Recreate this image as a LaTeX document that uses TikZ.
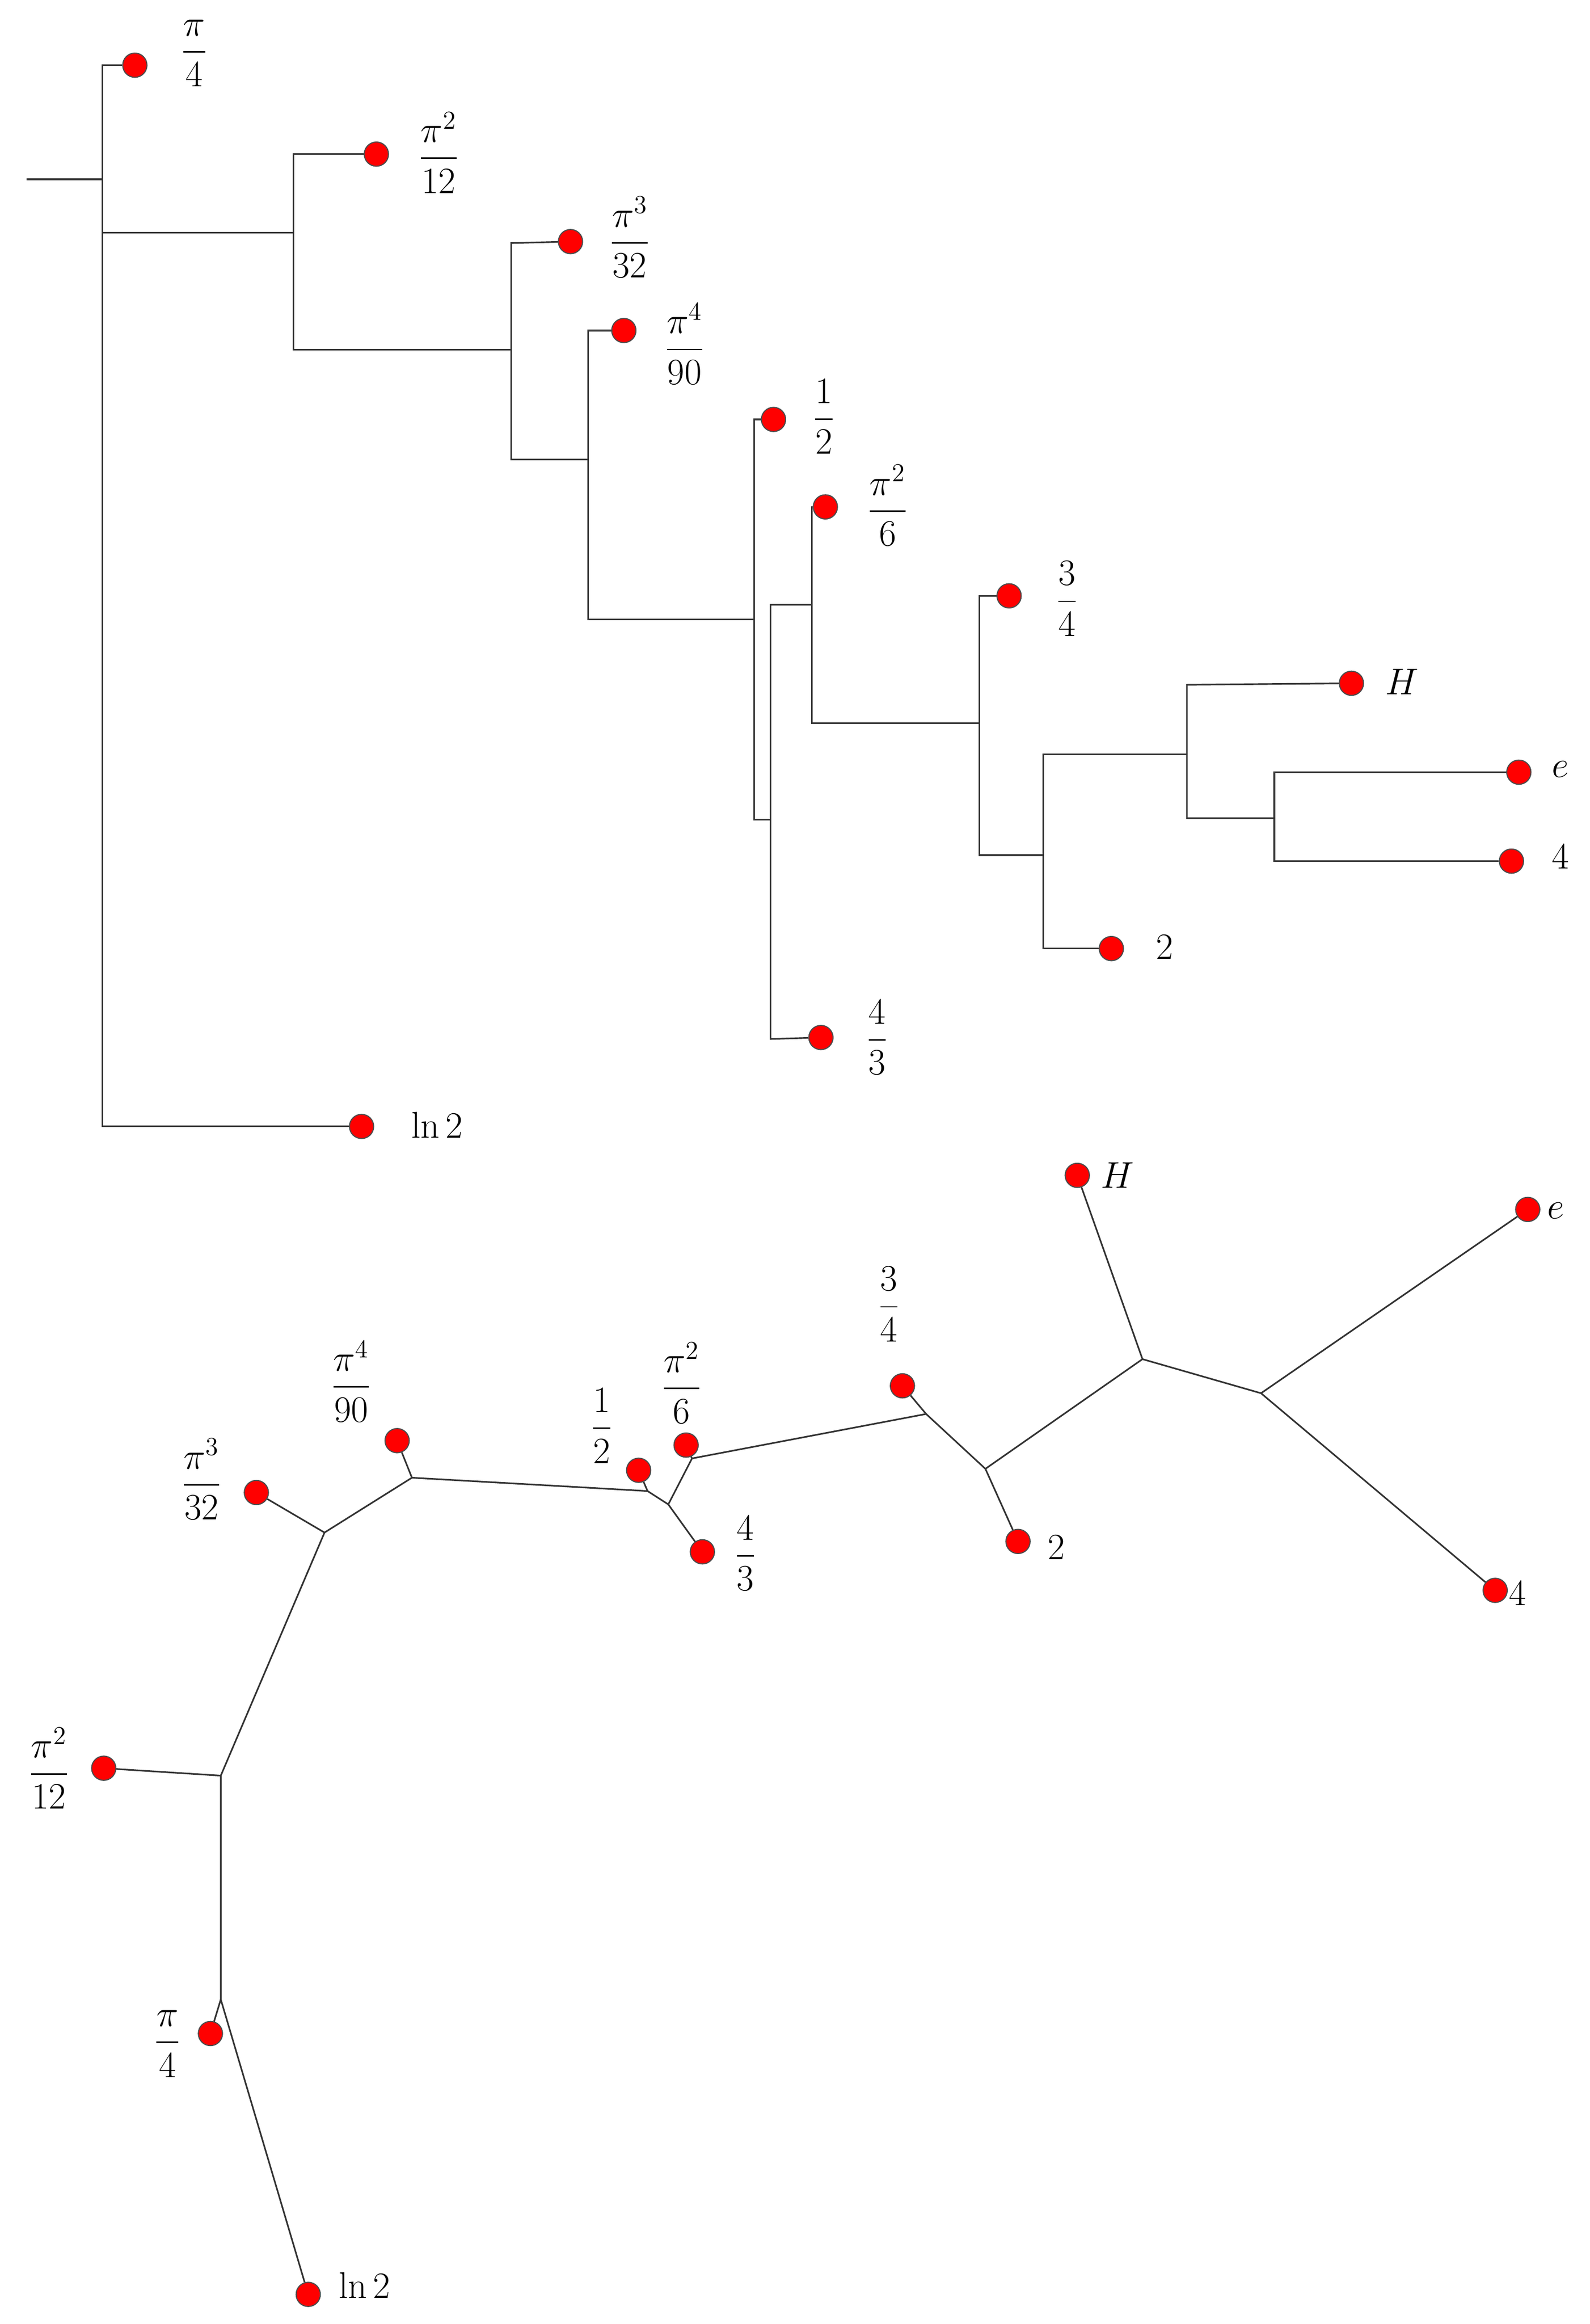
\documentclass[tikz,border=0pt]{standalone}
\usepackage{amsmath}
\begin{document}
\begin{tikzpicture}[x=0.02901cm,y=-0.02901cm,
  ln/.style={draw=black!80,line width=0.9pt},
  leaf/.style={circle,fill=red,draw=black!70,line width=0.6pt,inner sep=0pt,minimum size=13.5},
  lab/.style={font=\fontsize{22}{26}\selectfont,inner sep=0pt},
  pt/.style={coordinate}]
\useasboundingbox (0,0) rectangle (1073,1568);
% ---------- top tree ----------
\coordinate (r0) at (18,121); \coordinate (r1) at (69,121);
\coordinate (v1t) at (69,44); \coordinate (v1b) at (69,760); \coordinate (v1m) at (69,157);
\coordinate (v2m) at (198,157); \coordinate (v2t) at (198,104); \coordinate (v2b) at (198,236);
\coordinate (v3m) at (345,236); \coordinate (v3t) at (345,164); \coordinate (v3b) at (345,310);
\coordinate (v4m) at (397,310); \coordinate (v4t) at (397,223); \coordinate (v4b) at (397,418);
\coordinate (v5m) at (509,418); \coordinate (v5t) at (509,283); \coordinate (v5b) at (509,553);
\coordinate (v6m) at (520,553); \coordinate (v6t) at (520,408); \coordinate (v6b) at (520,701);
\coordinate (v7m) at (548,408); \coordinate (v7t) at (548,342); \coordinate (v7b) at (548,488);
\coordinate (v8m) at (661,488); \coordinate (v8t) at (661,402); \coordinate (v8b) at (661,577);
\coordinate (v9m) at (704,577); \coordinate (v9t) at (704,509); \coordinate (v9b) at (704,640);
\coordinate (vAm) at (801,509); \coordinate (vAt) at (801,462); \coordinate (vAb) at (801,552);
\coordinate (vBm) at (860,552); \coordinate (vBt) at (860,521); \coordinate (vBb) at (860,581);
\node[leaf] (tpi4) at (91,44) {}; \node[lab] at (131,36) {$\dfrac{\pi}{4}$};
\node[leaf] (tpi12) at (254,104) {}; \node[lab] at (296,103) {$\dfrac{\pi^2}{12}$};
\node[leaf] (tpi32) at (385,163) {}; \node[lab] at (425,160) {$\dfrac{\pi^3}{32}$};
\node[leaf] (tpi90) at (421,223) {}; \node[lab] at (462,232) {$\dfrac{\pi^4}{90}$};
\node[leaf] (thalf) at (522,283) {}; \node[lab] at (556,281) {$\dfrac{1}{2}$};
\node[leaf] (tpi6) at (557,342) {}; \node[lab] at (599,341) {$\dfrac{\pi^2}{6}$};
\node[leaf] (t34) at (681,402) {}; \node[lab] at (720,404) {$\dfrac{3}{4}$};
\node[leaf] (t43) at (554,700) {}; \node[lab] at (592,700) {$\dfrac{4}{3}$};
\node[leaf] (t2) at (750,640) {}; \node[lab] at (786,639) {$2$};
\node[leaf] (tH) at (912,461) {}; \node[lab] at (946,460) {$H$};
\node[leaf] (te) at (1025,521) {}; \node[lab] at (1053,519) {$e$};
\node[leaf] (t4) at (1020,581) {}; \node[lab] at (1053,578) {$4$};
\node[leaf] (tln) at (244,760) {}; \node[lab] at (295,759) {$\ln 2$};
\draw[ln] (r0)--(r1);
\draw[ln] (tpi4)--(v1t)--(v1b)--(tln);
\draw[ln] (v1m)--(v2m);
\draw[ln] (tpi12)--(v2t)--(v2b)--(v3m);
\draw[ln] (tpi32)--(v3t)--(v3b)--(v4m);
\draw[ln] (tpi90)--(v4t)--(v4b)--(v5m);
\draw[ln] (thalf)--(v5t)--(v5b)--(v6m);
\draw[ln] (t43)--(v6b)--(v6t)--(v7m);
\draw[ln] (tpi6)--(v7t)--(v7b)--(v8m);
\draw[ln] (t34)--(v8t)--(v8b)--(v9m);
\draw[ln] (t2)--(v9b)--(v9t)--(vAm);
\draw[ln] (tH)--(vAt)--(vAb)--(vBm);
\draw[ln] (te)--(vBt)--(vBb)--(t4);
% ---------- bottom tree ----------
\coordinate (A) at (149,1349); \coordinate (B) at (149,1198);
\coordinate (C) at (219,1034); \coordinate (D) at (278,997);
\coordinate (E) at (437,1006); \coordinate (F) at (451,1015);
\coordinate (G) at (467,984); \coordinate (I) at (625,954);
\coordinate (J) at (665,991); \coordinate (K) at (771,917);
\coordinate (L) at (851,940);
\node[leaf] (bpi4) at (142,1372) {}; \node[lab] at (113,1379) {$\dfrac{\pi}{4}$};
\node[leaf] (bln) at (208,1548) {}; \node[lab] at (246,1542) {$\ln 2$};
\node[leaf] (bpi12) at (70,1193) {}; \node[lab] at (33,1193) {$\dfrac{\pi^2}{12}$};
\node[leaf] (bpi32) at (173,1007) {}; \node[lab] at (136,998) {$\dfrac{\pi^3}{32}$};
\node[leaf] (bpi90) at (268,972) {}; \node[lab] at (237,932) {$\dfrac{\pi^4}{90}$};
\node[leaf] (bhalf) at (431,992) {}; \node[lab] at (406,962) {$\dfrac{1}{2}$};
\node[leaf] (b43) at (474,1047) {}; \node[lab] at (503,1048) {$\dfrac{4}{3}$};
\node[leaf] (bpi6) at (463,975) {}; \node[lab] at (460,933) {$\dfrac{\pi^2}{6}$};
\node[leaf] (b34) at (609,935) {}; \node[lab] at (600,880) {$\dfrac{3}{4}$};
\node[leaf] (b2) at (687,1040) {}; \node[lab] at (713,1044) {$2$};
\node[leaf] (bH) at (727,793) {}; \node[lab] at (754,793) {$H$};
\node[leaf] (be) at (1031,816) {}; \node[lab] at (1050,817) {$e$};
\node[leaf] (b4) at (1009,1073) {}; \node[lab] at (1024,1075) {$4$};
\draw[ln] (bln)--(A)--(B)--(C)--(D)--(E)--(F)--(G)--(I)--(J)--(K)--(L);
\draw[ln] (A)--(bpi4); \draw[ln] (B)--(bpi12); \draw[ln] (C)--(bpi32);
\draw[ln] (D)--(bpi90); \draw[ln] (E)--(bhalf); \draw[ln] (F)--(b43);
\draw[ln] (G)--(bpi6); \draw[ln] (I)--(b34); \draw[ln] (J)--(b2);
\draw[ln] (K)--(bH); \draw[ln] (L)--(be); \draw[ln] (L)--(b4);
\end{tikzpicture}
\end{document}
